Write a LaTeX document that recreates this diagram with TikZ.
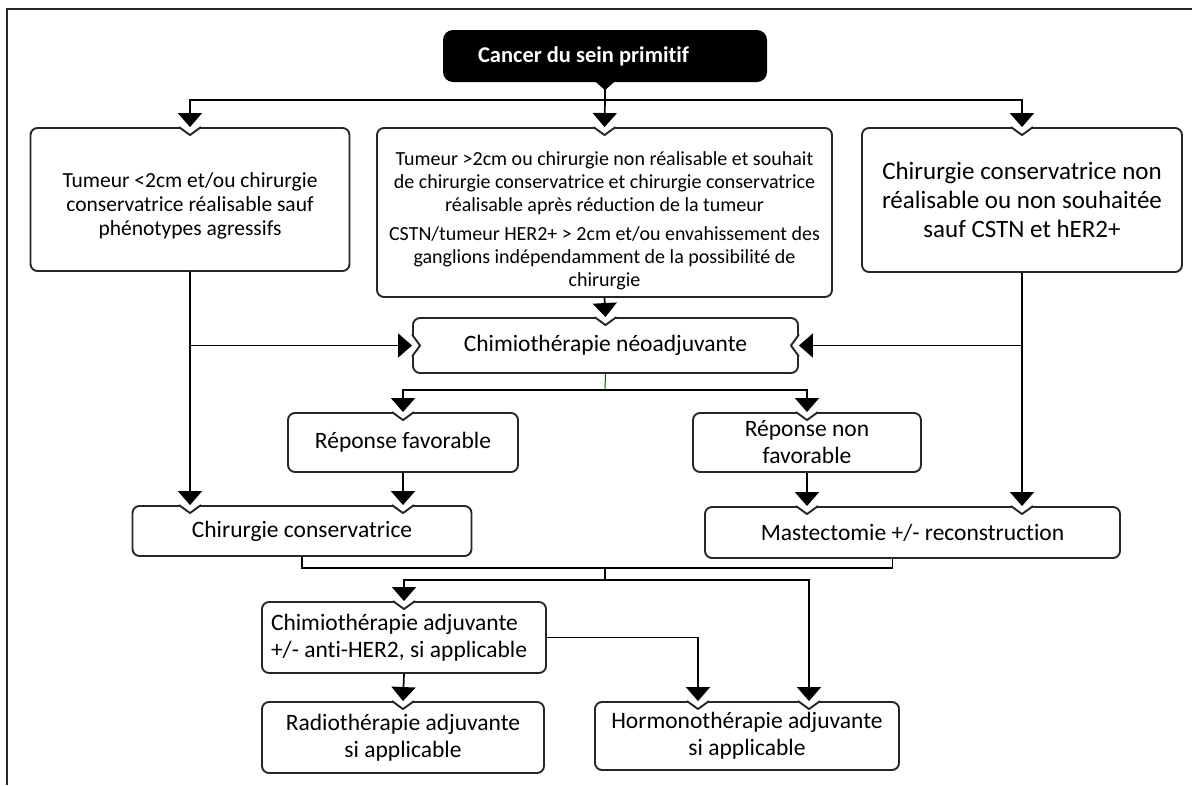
\documentclass[tikz,border=0pt]{standalone}
\usepackage{fontspec}
\setmainfont[Ligatures={NoCommon,NoDiscretionary,NoRare}]{Carlito}
\usetikzlibrary{arrows.meta,calc}

\tikzset{
  trait/.style={draw=black!85, line width=1.9pt},
  boite/.style={trait, rounded corners=7pt, fill=white, align=center, inner sep=2pt,
    font=\fontsize{23.5}{27}\selectfont},
  noire/.style={fill=black, rounded corners=10pt, text=white, align=flush left,
    font=\fontsize{22.5}{26}\selectfont\bfseries},
  fleche/.style={line width=1.7pt, -{Triangle[width=24pt,length=14pt]}},
  lien/.style={line width=1.7pt},
  encocheH/.pic={
    \fill[white] (-10,-2.5) rectangle (10,2.5);
    \draw[trait, line join=round] (-11,0) -- (0,8) -- (11,0);
  },
  encocheG/.pic={
    \fill[white] (-2.5,-10) rectangle (2.5,10);
    \draw[trait, line join=round] (0,-11) -- (8,0) -- (0,11);
  },
  encocheD/.pic={
    \fill[white] (-2.5,-10) rectangle (2.5,10);
    \draw[trait, line join=round] (0,-11) -- (-8,0) -- (0,11);
  }
}

\begin{document}
\begin{tikzpicture}[x=1pt, y=-1pt]
    \useasboundingbox (0,0) rectangle (1192,785);

    % cadre
    \draw[line width=2pt, black!85] (7,785) -- (7,9) -- (1192,9);

    % noeud de depart
    \node[noire, inner xsep=35pt, text width=254pt, minimum height=52pt] (cancer) at (605,56) {Cancer du sein primitif};
    \fill (cancer.south) ++(-10,-1) -- ++(20,0) -- ++(-10,9) -- cycle;

    % indications
    \node[boite, minimum width=319pt, minimum height=143pt, font=\fontsize{21.5}{24}\selectfont] (tumpetite) at (190,199.5)
        {\rule{0pt}{28pt}Tumeur <2cm et/ou chirurgie\\conservatrice réalisable sauf\\phénotypes agressifs};
    \node[boite, minimum width=455pt, minimum height=169pt, font=\fontsize{20}{23}\selectfont] (tumgrosse) at (604.5,212.5)
        {\rule{0pt}{30pt}Tumeur >2cm ou chirurgie non réalisable et souhait\\de chirurgie conservatrice et chirurgie conservatrice\\réalisable après réduction de la tumeur\\[6pt]
         CSTN/tumeur HER2+ > 2cm et/ou envahissement des\\ganglions indépendamment de la possibilité de\\chirurgie};
    \node[boite, minimum width=320pt, minimum height=144pt, font=\fontsize{25}{29}\selectfont] (nonconserv) at (1022,200)
        {Chirurgie conservatrice non\\réalisable ou non souhaitée\\sauf CSTN et hER2+};

    % traitement neoadjuvant
    \node[boite, minimum width=385pt, minimum height=55pt] (neoadj) at (605.5,345.5) {Chimiothérapie néoadjuvante};
    \node[boite, minimum width=230pt, minimum height=59pt] (repfav) at (403,442.5) {Réponse favorable};
    \node[boite, minimum width=228pt, minimum height=59pt] (repnon) at (807,442.5) {Réponse non\\favorable};

    % chirurgie
    \node[boite, minimum width=339pt, minimum height=50pt] (chirconserv) at (302,531) {Chirurgie conservatrice};
    \node[boite, minimum width=415pt, minimum height=51pt] (mastect) at (912.5,532.5) {Mastectomie +/- reconstruction};

    % traitements adjuvants
    \node[boite, align=flush left, inner xsep=9pt, text width=266pt, minimum height=71pt] (chimioadj) at (404,637.5)
        {Chimiothérapie adjuvante\\+/- anti-HER2, si applicable};
    \node[boite, minimum width=282pt, minimum height=71pt] (radio) at (403,737.5) {Radiothérapie adjuvante\\si applicable};
    \node[boite, minimum width=304pt, minimum height=68pt] (hormono) at (747,736) {Hormonothérapie adjuvante\\si applicable};

    % points d'arrivee
    \coordinate (div1) at (605,100);
    \coordinate (div2) at (605,390);
    \coordinate (div3) at (605,580);
    \coordinate (gauche) at (tumpetite.south |- neoadj.west);
    \coordinate (droite) at (nonconserv.south |- neoadj.east);
    \coordinate (chirA) at (tumpetite.south |- chirconserv.north);
    \coordinate (chirB) at (repfav.south |- chirconserv.north);
    \coordinate (mastA) at (repnon.south |- mastect.north);
    \coordinate (mastB) at (nonconserv.south |- mastect.north);
    \coordinate (hormA) at ($(hormono.north)+(-49,0)$);
    \coordinate (hormB) at ($(hormono.north)+(62,0)$);

    % encoches
    \foreach \p in {tumpetite.north, tumgrosse.north, nonconserv.north, neoadj.north, repfav.north, repnon.north,
                    chirA, chirB, mastA, mastB, chimioadj.north, radio.north, hormA, hormB}
        \pic at (\p) {encocheH};
    \pic at (neoadj.west) {encocheG};
    \pic at (neoadj.east) {encocheD};

    % fleches
    \draw[lien] (cancer.south) -- (div1);
    \draw[fleche] (div1) -| (tumpetite.north);
    \draw[fleche] (div1) -- (tumgrosse.north);
    \draw[fleche] (div1) -| (nonconserv.north);

    \draw[fleche] (tumpetite.south) -- (chirA);
    \draw[fleche] (gauche) -- (neoadj.west);
    \draw[fleche] (nonconserv.south) -- (mastB);
    \draw[fleche] (droite) -- (neoadj.east);
    \draw[fleche] (tumgrosse.south) -- (neoadj.north);

    \draw[green!40!black, line width=1pt] (neoadj.south) -- (div2);
    \draw[fleche] (div2) -| (repfav.north);
    \draw[fleche] (div2) -| (repnon.north);
    \draw[fleche] (repfav.south) -- (chirB);
    \draw[fleche] (repnon.south) -- (mastA);

    \draw[lien] (chirconserv.south) |- ($(mastect.south)+(-20,9)$) -- ($(mastect.south)+(-20,0)$);
    \draw[lien] (605,567) -- (div3);
    \draw[fleche] (div3) -| (chimioadj.north);
    \draw[fleche] (div3) -| (hormB);
    \draw[fleche] (chimioadj.east) -| (hormA);
    \draw[fleche] (chimioadj.south) -- (radio.north);

\end{tikzpicture}
\end{document}
